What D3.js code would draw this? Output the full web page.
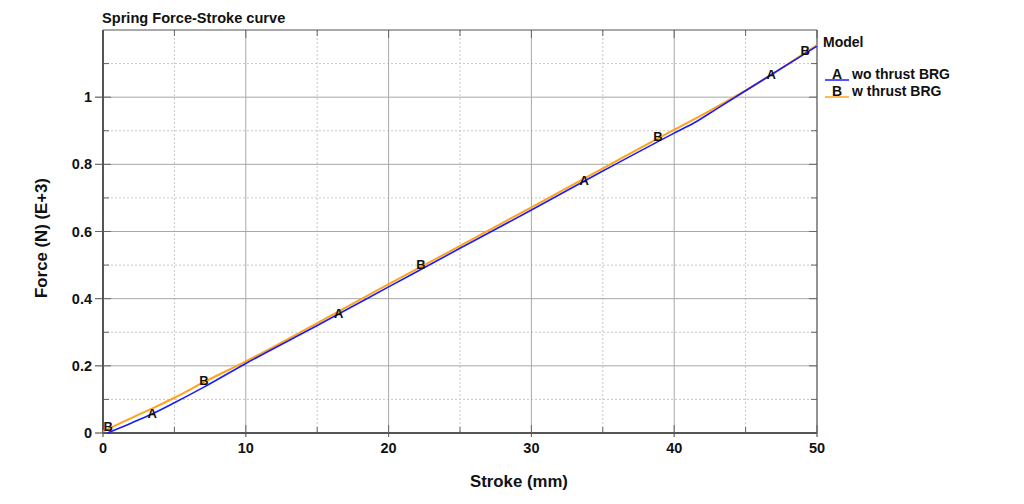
<!DOCTYPE html>
<html>
<head>
<meta charset="utf-8">
<script src="https://cdn.jsdelivr.net/npm/d3@7"></script>
<style>
  html, body { margin: 0; padding: 0; background: #fff; }
  svg text { font-family: "Liberation Sans", Arial, sans-serif; font-weight: bold; fill: #111; }
</style>
</head>
<body>
<svg id="chart" width="1024" height="504"></svg>
<script>
// ---- data ----
const title = "Spring Force-Stroke curve";
const xLabel = "Stroke (mm)";
const yLabel = "Force (N) (E+3)";
const legendTitle = "Model";
const seriesNames = ["wo thrust BRG", "w thrust BRG"];
const seriesKeys = ["A", "B"];
const seriesColors = ["#1a1aff", "#ffa31a"];

const strokeA = [0.3, 2, 3.5, 5, 7, 10, 15, 20, 25, 30, 35, 40, 41.5, 43, 45, 50];
const forceA  = [0.0, 0.03, 0.058, 0.09, 0.135, 0.207, 0.32, 0.435, 0.55, 0.664, 0.78, 0.893, 0.926, 0.966, 1.019, 1.152];
const strokeB = [0, 2, 3.5, 5, 7, 10, 15, 20, 25, 30, 35, 40, 42, 45, 50];
const forceB  = [0.005, 0.045, 0.074, 0.105, 0.15, 0.213, 0.327, 0.443, 0.557, 0.672, 0.788, 0.903, 0.948, 1.02, 1.155];

const markerStrokeA = [3.45, 16.5, 33.7, 46.8];
const markerStrokeB = [0.3, 7.0, 22.2, 38.8, 49.1];

const xMajorTicks = [0, 10, 20, 30, 40, 50];
const xMinorTicks = [5, 15, 25, 35, 45];
const yMajorTicks = [0, 0.2, 0.4, 0.6, 0.8, 1];
const yMinorTicks = [0.1, 0.3, 0.5, 0.7, 0.9, 1.1];
const yTickLabels = ["0", "0.2", "0.4", "0.6", "0.8", "1"];

// ---- layout ----
const svg = d3.select("#chart");
const L = 103, R = 817, T = 30, B = 433;
const x = d3.scaleLinear().domain([0, 50]).range([L, R]);
const y = d3.scaleLinear().domain([0, 1.2]).range([B, T]);

// grid
const g = svg.append("g");
g.selectAll(".xminor").data(xMinorTicks).join("line")
  .attr("x1", d => x(d)).attr("x2", d => x(d)).attr("y1", T).attr("y2", B)
  .attr("stroke", "#c8c8c8").attr("stroke-dasharray", "2,2");
g.selectAll(".yminor").data(yMinorTicks).join("line")
  .attr("y1", d => y(d)).attr("y2", d => y(d)).attr("x1", L).attr("x2", R)
  .attr("stroke", "#c8c8c8").attr("stroke-dasharray", "2,2");
g.selectAll(".xmajor").data(xMajorTicks).join("line")
  .attr("x1", d => x(d)).attr("x2", d => x(d)).attr("y1", T).attr("y2", B + 4)
  .attr("stroke", "#a8a8a8");
g.selectAll(".ymajor").data(yMajorTicks).join("line")
  .attr("y1", d => y(d)).attr("y2", d => y(d)).attr("x1", L - 8).attr("x2", R)
  .attr("stroke", "#a8a8a8");

// inward ticks on all four sides
const tickCol = "#666";
function vTicks(vals, len) {
  vals.forEach(v => {
    g.append("line").attr("x1", x(v)).attr("x2", x(v)).attr("y1", B).attr("y2", B - len).attr("stroke", tickCol);
    g.append("line").attr("x1", x(v)).attr("x2", x(v)).attr("y1", T).attr("y2", T + len).attr("stroke", tickCol);
  });
}
function hTicks(vals, len) {
  vals.forEach(v => {
    g.append("line").attr("y1", y(v)).attr("y2", y(v)).attr("x1", L).attr("x2", L + len).attr("stroke", tickCol);
    g.append("line").attr("y1", y(v)).attr("y2", y(v)).attr("x1", R).attr("x2", R - len).attr("stroke", tickCol);
  });
}
vTicks(xMajorTicks, 8); vTicks(xMinorTicks, 6);
hTicks(yMajorTicks, 8); hTicks(yMinorTicks, 6);
// major outward ticks
xMajorTicks.forEach(v => g.append("line").attr("x1", x(v)).attr("x2", x(v)).attr("y1", B).attr("y2", B + 4).attr("stroke", tickCol));
yMajorTicks.forEach(v => g.append("line").attr("y1", y(v)).attr("y2", y(v)).attr("x1", L - 8).attr("x2", L).attr("stroke", tickCol));

// frame
svg.append("line").attr("x1", L).attr("x2", R).attr("y1", T).attr("y2", T).attr("stroke", "#555");
svg.append("line").attr("x1", R).attr("x2", R).attr("y1", T).attr("y2", B).attr("stroke", "#555");
svg.append("line").attr("x1", L).attr("x2", L).attr("y1", T).attr("y2", B).attr("stroke", "#555").attr("stroke-width", 2);
svg.append("line").attr("x1", L).attr("x2", R).attr("y1", B).attr("y2", B).attr("stroke", "#555").attr("stroke-width", 2);

// tick labels
svg.selectAll(".xl").data(xMajorTicks).join("text")
  .attr("x", d => x(d)).attr("y", 453).attr("text-anchor", "middle")
  .style("font-size", "14.5px").text(d => d);
svg.selectAll(".yl").data(yMajorTicks).join("text")
  .attr("x", 92).attr("y", d => y(d) + 5).attr("text-anchor", "end")
  .style("font-size", "14.5px").text((d, i) => yTickLabels[i]);

// titles
svg.append("text").attr("x", 102).attr("y", 23).style("font-size", "14.6px").text(title);
svg.append("text").attr("x", 519).attr("y", 487).attr("text-anchor", "middle")
  .style("font-size", "16.8px").text(xLabel);
svg.append("text").attr("transform", `translate(47,238) rotate(-90)`)
  .attr("text-anchor", "middle").style("font-size", "16.8px").text(yLabel);

// lines
const line = d3.line().x(d => x(d[0])).y(d => y(d[1])).curve(d3.curveMonotoneX);
const dataA = strokeA.map((s, i) => [s, forceA[i]]);
const dataB = strokeB.map((s, i) => [s, forceB[i]]);
const interpA = d3.scaleLinear().domain(strokeA).range(forceA);
const interpB = d3.scaleLinear().domain(strokeB).range(forceB);

const plot = svg.append("g");
plot.append("path").datum(dataB).attr("d", line).attr("fill", "none")
  .attr("stroke", seriesColors[1]).attr("stroke-width", 2);
plot.append("path").datum(dataA).attr("d", line).attr("fill", "none")
  .attr("stroke", seriesColors[0]).attr("stroke-width", 1.6);

// markers (letters on lines)
plot.selectAll(".ma").data(markerStrokeA).join("text")
  .attr("x", d => x(d)).attr("y", d => y(interpA(d)) + 4).attr("text-anchor", "middle")
  .style("font-size", "13px").text(seriesKeys[0]);
plot.selectAll(".mb").data(markerStrokeB).join("text")
  .attr("x", d => x(d) + 1).attr("y", d => y(interpB(Math.max(d, 0))) + 2).attr("text-anchor", "middle")
  .style("font-size", "13px").text(seriesKeys[1]);

// legend
const lg = svg.append("g");
lg.append("text").attr("x", 823).attr("y", 47).style("font-size", "14px").text(legendTitle);
seriesNames.forEach((n, i) => {
  const yy = 80 + i * 17;
  lg.append("line").attr("x1", 825).attr("x2", 849).attr("y1", yy).attr("y2", yy)
    .attr("stroke", seriesColors[i]).attr("stroke-width", 1.5);
  lg.append("text").attr("x", 837).attr("y", yy - 1).attr("text-anchor", "middle")
    .style("font-size", "14px").text(seriesKeys[i]);
  lg.append("text").attr("x", 852).attr("y", yy - 1).style("font-size", "14px").text(n);
});
</script>
</body>
</html>
